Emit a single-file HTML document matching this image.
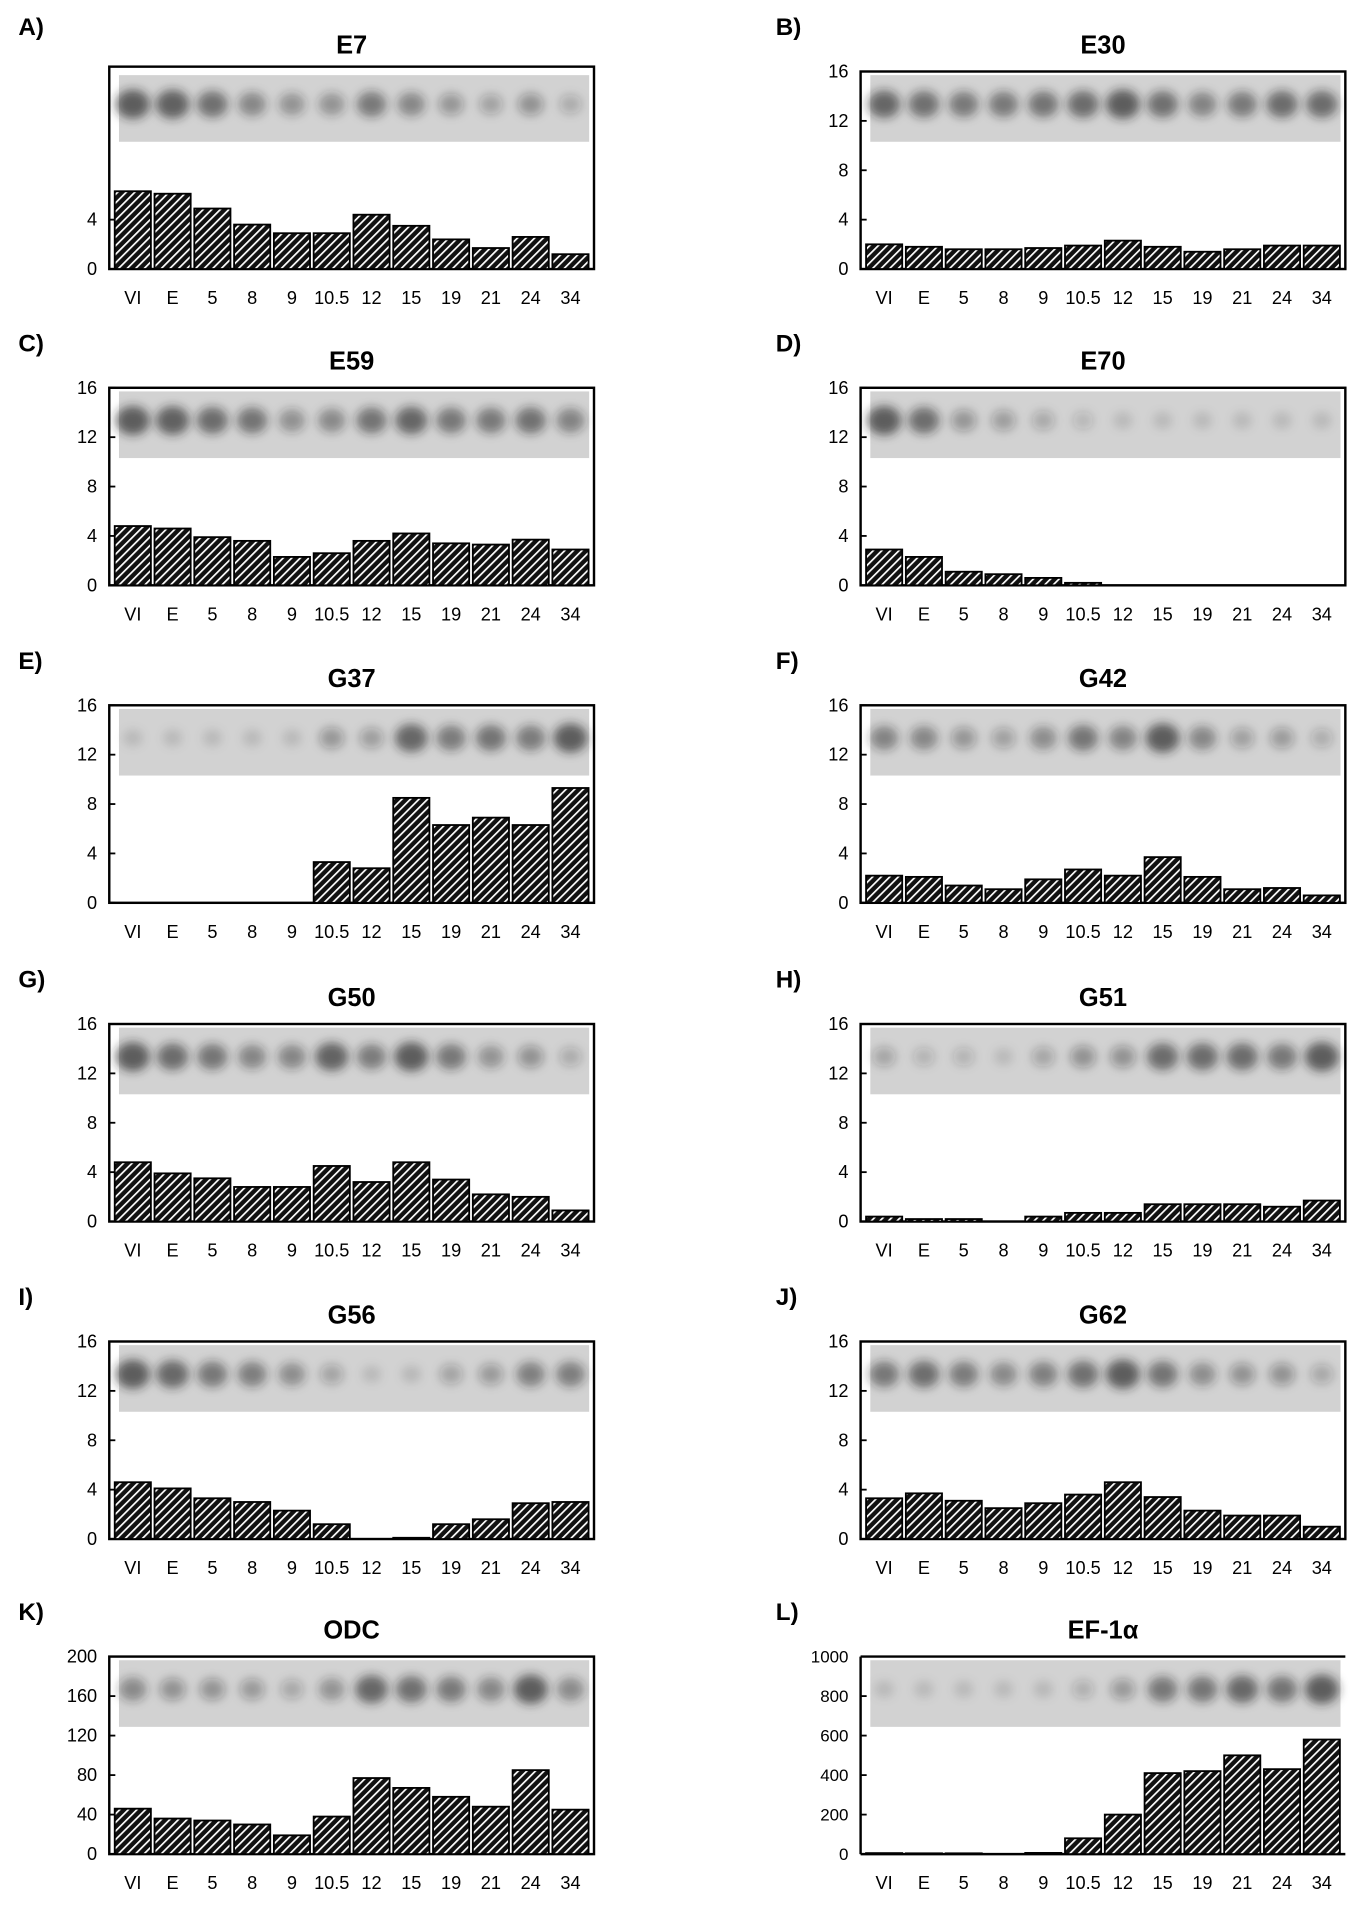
<!DOCTYPE html>
<html><head><meta charset="utf-8"><style>
html,body{margin:0;padding:0;background:#fff;}
svg{display:block;font-family:"Liberation Sans",Arial,sans-serif;}
</style></head><body>
<svg id="fig" width="1371" height="1905" viewBox="0 0 1131 1572" xmlns="http://www.w3.org/2000/svg">
<defs>
<pattern id="hatch" patternUnits="userSpaceOnUse" width="5" height="5" patternTransform="rotate(45)">
<rect width="5" height="5" fill="#111"/><rect x="0" y="0" width="1.4" height="5" fill="#fff"/>
</pattern>
<filter id="blur" x="-50%" y="-50%" width="200%" height="200%"><feGaussianBlur stdDeviation="4"/></filter>
</defs>
</svg>
<script>
const categories=["VI","E","5","8","9","10.5","12","15","19","21","24","34"];
const valsA=[6.3,6.1,4.9,3.6,2.9,2.9,4.4,3.5,2.4,1.7,2.6,1.2];
const valsB=[2.0,1.8,1.6,1.6,1.7,1.9,2.3,1.8,1.4,1.6,1.9,1.9];
const valsC=[4.8,4.6,3.9,3.6,2.3,2.6,3.6,4.2,3.4,3.3,3.7,2.9];
const valsD=[2.9,2.3,1.1,0.9,0.6,0.2,0,0,0,0,0,0];
const valsE=[0,0,0,0,0,3.3,2.8,8.5,6.3,6.9,6.3,9.3];
const valsF=[2.2,2.1,1.4,1.1,1.9,2.7,2.2,3.7,2.1,1.1,1.2,0.6];
const valsG=[4.8,3.9,3.5,2.8,2.8,4.5,3.2,4.8,3.4,2.2,2.0,0.9];
const valsH=[0.4,0.2,0.2,0,0.4,0.7,0.7,1.4,1.4,1.4,1.2,1.7];
const valsI=[4.6,4.1,3.3,3.0,2.3,1.2,0,0.1,1.2,1.6,2.9,3.0];
const valsJ=[3.3,3.7,3.1,2.5,2.9,3.6,4.6,3.4,2.3,1.9,1.9,1.0];
const valsK=[46,36,34,30,19,38,77,67,58,48,85,45];
const valsL=[5,4,4,0,6,80,200,410,420,500,430,580];
const ticks16=[0,4,8,12,16];
const ticksA=[0,4];
const ticksK=[0,40,80,120,160,200];
const ticksL=[0,200,400,600,800,1000];
const titles=["E7","E30","E59","E70","G37","G42","G50","G51","G56","G62","ODC","EF-1α"];
const letters=["A)","B)","C)","D)","E)","F)","G)","H)","I)","J)","K)","L)"];
const allVals=[valsA,valsB,valsC,valsD,valsE,valsF,valsG,valsH,valsI,valsJ,valsK,valsL];
const allTicks=[ticksA,ticks16,ticks16,ticks16,ticks16,ticks16,ticks16,ticks16,ticks16,ticks16,ticksK,ticksL];
const maxes=[16,16,16,16,16,16,16,16,16,16,200,1000];

const NS="http://www.w3.org/2000/svg";
const svg=document.getElementById("fig");
function mk(tag,attrs,parent){const e=document.createElementNS(NS,tag);for(const k in attrs)e.setAttribute(k,attrs[k]);(parent||svg).appendChild(e);return e;}
const baselines=[222,483,745,1008,1270,1530];
for(let p=0;p<12;p++){
  const col=p%2,row=Math.floor(p/2);
  const x0=col?710:90, base=baselines[row], top=base-163, W=400;
  const vals=allVals[p], mx=maxes[p];
  const yS=v=>base-(v/mx)*163;
  const xS=i=>x0+3+i*(W-6)/12;
  const slot=(W-6)/12;
  const g=mk("g",{});
  
  
  const lt=mk("text",{x:x0-(col?70:75),y:base-193,"font-size":20,"font-weight":"bold"},g);lt.textContent=letters[p];
  
  const tt=mk("text",{x:x0+200,y:base-178,"font-size":21,"font-weight":"bold","text-anchor":"middle"},g);tt.textContent=titles[p];
  
  const band=mk("g",{},g);
  
  mk("rect",{x:x0+8,y:top+3,width:W-12,height:55,fill:"#d2d2d2"},band);
  for(let i=0;i<12;i++){
    const v=vals[i]/Math.max(...vals);
    const op=0.12+0.55*v;
    mk("ellipse",{cx:xS(i)+slot/2,cy:top+27,rx:8+6*v,ry:7+5*v,fill:"#222","fill-opacity":op.toFixed(2),filter:"url(#blur)"},band);
  }
  if(p===11){
    mk("line",{x1:x0,y1:top,x2:x0+W,y2:top,stroke:"#000","stroke-width":2},g);
    mk("line",{x1:x0,y1:top,x2:x0,y2:base,stroke:"#000","stroke-width":2},g);
    mk("line",{x1:x0,y1:base,x2:x0+W,y2:base,stroke:"#000","stroke-width":2},g);
  } else {
    mk("rect",{x:x0,y:p===0?top-4:top,width:W,height:p===0?167:163,fill:"none",stroke:"#000","stroke-width":2},g);
  }
  for(const t of allTicks[p]){
    const y=yS(t);
    mk("line",{x1:x0,y1:y,x2:x0+5,y2:y,stroke:"#000","stroke-width":1.5},g);
    const tl=mk("text",{x:x0-10,y:y+5,"font-size":p===11?14:15,"text-anchor":"end"},g);tl.textContent=t;
    
  }
  for(let i=0;i<12;i++){
    const y=yS(vals[i]);
    const b=mk("rect",{x:xS(i)+1.5,y:y,width:slot-3,height:base-y,fill:"url(#hatch)",stroke:"#000","stroke-width":1.5},g);
    
    
    const cl=mk("text",{x:xS(i)+slot/2,y:base+29,"font-size":15,"text-anchor":"middle"},g);cl.textContent=categories[i];
    
  }
}
</script>
</body></html>
